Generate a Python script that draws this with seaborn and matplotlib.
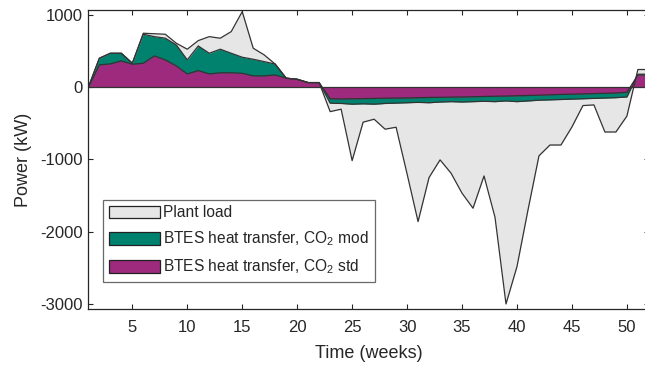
import numpy as np
import pandas as pd
import matplotlib
matplotlib.use("Agg")
import matplotlib.pyplot as plt
import seaborn as sns
from matplotlib.patches import Patch

weeks = list(range(1, 53))

plant_load = [0, 401, 470, 470, 332, 747, 740, 733, 609, 526,
              645, 700, 678, 770, 1046, 540, 447, 320, 125, 110,
              64, 64, -338, -304, -1016, -484, -443, -581, -554, -1200,
              -1860, -1250, -1006, -1190, -1467, -1675, -1228, -1800, -3000, -2483,
              -1700, -950, -800, -800, -550, -254, -245, -620, -620, -400,
              245, 245]

btes_mod = [0, 401, 470, 470, 332, 733, 700, 678, 585, 378,
            571, 470, 526, 470, 415, 387, 354, 320, 125, 110,
            64, 64, -221, -225, -235, -230, -235, -225, -220, -215,
            -210, -215, -205, -200, -205, -200, -195, -200, -190, -200,
            -190, -180, -175, -170, -165, -160, -155, -150, -145, -135,
            180, 180]

btes_std = [0, 309, 323, 364, 318, 332, 433, 378, 295, 184,
            230, 184, 200, 200, 193, 157, 157, 170, 125, 110,
            64, 64, -160, -162, -160, -158, -155, -152, -150, -148,
            -145, -142, -140, -137, -135, -132, -128, -125, -122, -118,
            -115, -110, -105, -100, -96, -92, -88, -84, -80, -70,
            170, 170]

labels = ["Plant load", "BTES heat transfer, CO$_2$ mod", "BTES heat transfer, CO$_2$ std"]
colors = ["#e6e6e6", "#00826f", "#9e2a7d"]
xticks = [5, 10, 15, 20, 25, 30, 35, 40, 45, 50]
yticks = [-3000, -2000, -1000, 0, 1000]

sns.set_style("white")
plt.rcParams["font.family"] = ["Liberation Sans", "DejaVu Sans"]
plt.rcParams["mathtext.fontset"] = "custom"
plt.rcParams["mathtext.rm"] = "Liberation Sans"
plt.rcParams["mathtext.it"] = "Liberation Sans"
plt.rcParams["axes.unicode_minus"] = False

df = pd.DataFrame({"week": weeks, "plant": plant_load, "mod": btes_mod, "std": btes_std})

fig = plt.figure(figsize=(6.45, 3.67), dpi=100)
ax = fig.add_axes([0.137, 0.157, 0.869, 0.817])

edge = "#333333"
for col, c in zip(["plant", "mod", "std"], colors):
    ax.fill_between(df["week"], 0, df[col], color=c, linewidth=0)
    sns.lineplot(data=df, x="week", y=col, ax=ax, color=edge, linewidth=0.9)
ax.axhline(0, color=edge, linewidth=0.9)

ax.set_xlim(1, 52)
ax.set_ylim(-3075, 1075)
ax.set_xticks(xticks)
ax.set_yticks(yticks)
ax.tick_params(direction="in", length=3.5, width=0.8, labelsize=12,
               colors="#262626", top=True, right=True, bottom=True, left=True)
ax.tick_params(axis="x", pad=8)
ax.tick_params(axis="y", pad=4)
for s in ax.spines.values():
    s.set_color("#262626")
    s.set_linewidth(0.9)
ax.set_xlabel("Time (weeks)", fontsize=13, color="#262626", labelpad=7)
ax.set_ylabel("Power (kW)", fontsize=13, color="#262626", labelpad=6)

handles = [Patch(facecolor=c, edgecolor="#222222", linewidth=0.9) for c in colors]
leg = ax.legend(handles, labels, loc="upper left", bbox_to_anchor=(0.027, 0.365),
                fontsize=11.2, frameon=True, fancybox=False, handlelength=3.3,
                handleheight=0.9, handletextpad=0.2, labelspacing=0.6,
                borderpad=0.35, borderaxespad=0)
leg.get_frame().set_edgecolor("#444444")
leg.get_frame().set_linewidth(0.9)

fig.savefig("out.png", dpi=100)
